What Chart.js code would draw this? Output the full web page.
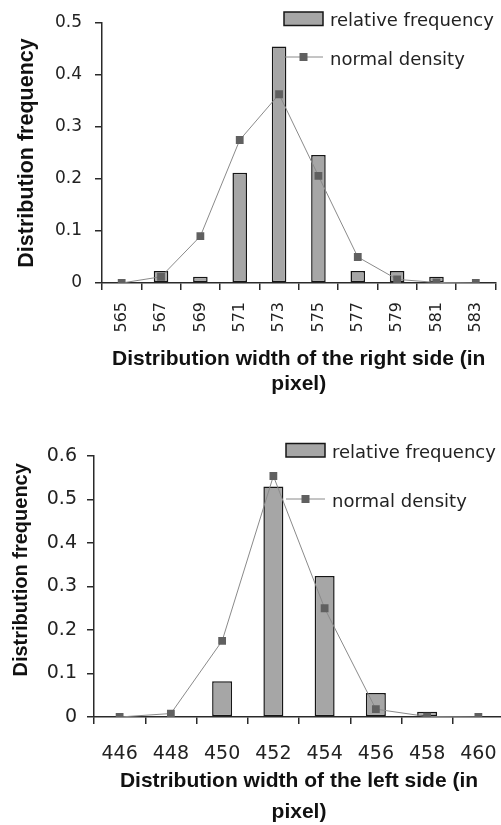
<!DOCTYPE html>
<html>
<head>
<meta charset="utf-8">
<script src="https://cdn.jsdelivr.net/npm/chart.js@4.4.1/dist/chart.umd.min.js"></script>
<style>
  html, body { margin: 0; padding: 0; background: #fff; overflow: hidden; }
  body { width: 501px; height: 825px; position: relative; }
  .wrap { position: absolute; left: 0; }
  #rightWrap { top: 0; width: 501px; height: 400px; }
  #leftWrap { top: 410px; width: 510px; height: 415px; }
</style>
</head>
<body>
<div class="wrap" id="rightWrap"><canvas id="rightChart" width="501" height="400"></canvas></div>
<div class="wrap" id="leftWrap"><canvas id="leftChart" width="510" height="415"></canvas></div>
<script>
// ── Data: right side ──
const rightWidths = ['565', '567', '569', '571', '573', '575', '577', '579', '581', '583'];
const rightFreq = [0, 0.023, 0.012, 0.212, 0.455, 0.246, 0.023, 0.023, 0.012, 0];
const rightDensity = [0, 0.012, 0.09, 0.275, 0.363, 0.206, 0.05, 0.007, 0.001, 0];

// ── Data: left side ──
const leftWidths = ['446', '448', '450', '452', '454', '456', '458', '460'];
const leftFreq = [0, 0, 0.082, 0.53, 0.324, 0.055, 0.012, 0];
const leftDensity = [0, 0.008, 0.175, 0.554, 0.25, 0.018, 0.001, 0];

const AXIS = '#2a2a2a';
const TEXT = '#222';
const BAR_FILL = '#a6a6a6';
const BAR_EDGE = '#161616';
const LINE = '#8a8a8a';
const MARKER = '#606060';

// ── Legend drawn at the top right of each chart ──
const sideLegend = {
  id: 'sideLegend',
  afterDraw(chart, args, opts) {
    const ctx = chart.ctx;
    const bar = chart.data.datasets.find(d => d.type === 'bar');
    const line = chart.data.datasets.find(d => d.type === 'line');
    ctx.save();
    ctx.fillStyle = bar.backgroundColor;
    ctx.fillRect(opts.x, opts.y, 39, 13.5);
    ctx.lineWidth = 1.5;
    ctx.strokeStyle = bar.borderColor;
    ctx.strokeRect(opts.x, opts.y, 39, 13.5);

    ctx.strokeStyle = line.borderColor;
    ctx.lineWidth = 1;
    ctx.beginPath();
    ctx.moveTo(opts.x, opts.lineY);
    ctx.lineTo(opts.x + 39, opts.lineY);
    ctx.stroke();
    ctx.fillStyle = line.pointBackgroundColor;
    ctx.fillRect(opts.x + 15.5, opts.lineY - 4, 8, 8);

    ctx.font = '18px "DejaVu Sans"';
    ctx.fillStyle = TEXT;
    ctx.textBaseline = 'alphabetic';
    ctx.fillText(bar.label, opts.x + 46, opts.y + 14);
    ctx.fillText(line.label, opts.x + 46, opts.lineY + 7.5);
    ctx.restore();
  }
};

function makeChart(id, o) {
  const tickFont = size => ({ family: 'DejaVu Sans', size });
  const titleFont = (size, lh) => ({ family: 'Liberation Sans', size, weight: 'bold', lineHeight: lh });
  return new Chart(document.getElementById(id), {
    type: 'bar',
    data: {
      labels: o.labels,
      datasets: [{
        type: 'line',
        label: 'normal density',
        data: o.density,
        borderColor: LINE,
        borderWidth: 1,
        pointStyle: 'rect',
        pointRadius: 5.5,
        pointBorderWidth: 0,
        pointBackgroundColor: MARKER,
        pointBorderColor: MARKER,
        tension: 0,
        order: 0,
      }, {
        type: 'bar',
        label: 'relative frequency',
        data: o.freq,
        backgroundColor: BAR_FILL,
        borderColor: BAR_EDGE,
        borderWidth: 1.5,
        borderSkipped: false,
        barPercentage: o.barPct,
        categoryPercentage: 1,
        order: 1,
      }]
    },
    plugins: [sideLegend],
    options: {
      responsive: false,
      animation: false,
      events: [],
      layout: { padding: o.pad },
      plugins: {
        legend: { display: false },
        tooltip: { enabled: false },
        sideLegend: o.legend,
      },
      scales: {
        x: {
          grid: { drawOnChartArea: false, tickLength: 7, color: AXIS, lineWidth: 1.5, offset: true },
          border: { color: AXIS, width: 1.5 },
          ticks: {
            font: tickFont(o.xTickSize), color: TEXT, autoSkip: false,
            minRotation: o.xRot, maxRotation: o.xRot, padding: o.xTickPad,
          },
          title: {
            display: true, text: o.xTitle, color: '#111',
            font: titleFont(21, o.xTitleLH), padding: { top: 0, bottom: o.xTitlePadB },
          },
          afterFit: s => {
            s.height = o.xHeight;
            s.paddingLeft = 0;
            s.paddingRight = 0;
          },
        },
        y: {
          min: 0,
          max: o.yMax,
          grid: { drawOnChartArea: false, tickLength: 7, color: AXIS, lineWidth: 1.5 },
          border: { color: AXIS, width: 1.5 },
          ticks: { stepSize: 0.1, font: tickFont(o.yTickSize), color: TEXT, padding: o.yTickPad },
          title: {
            display: true, text: o.yTitle, color: '#111',
            font: titleFont(o.yTitleSize, 1.2), padding: { top: o.yTitlePadT, bottom: 0 },
          },
          afterFit: s => {
            s.width = o.yWidth;
            s.paddingTop = 0;
            s.paddingBottom = 0;
          },
        }
      }
    }
  });
}

// ── Right side chart ──
makeChart('rightChart', {
  labels: rightWidths,
  freq: rightFreq,
  density: rightDensity,
  barPct: 0.37,
  pad: { top: 23, right: 4, bottom: 0, left: 0 },
  legend: { x: 284, y: 12, lineY: 57 },
  xTickSize: 16, xRot: 90, xTickPad: 12,
  xTitle: ['Distribution width of the right side (in', 'pixel)'],
  xTitleLH: 1.22, xTitlePadB: 2.5,
  xHeight: 117,
  yMax: 0.5, yTickSize: 17, yTickPad: 13,
  yTitle: 'Distribution frequency', yTitleSize: 21.5, yTitlePadT: 14.5,
  yWidth: 102,
});

// ── Left side chart ──
makeChart('leftChart', {
  labels: leftWidths,
  freq: leftFreq,
  density: leftDensity,
  barPct: 0.39,
  pad: { top: 46, right: 6, bottom: 0, left: 0 },
  legend: { x: 286, y: 33.5, lineY: 89 },
  xTickSize: 19, xRot: 0, xTickPad: 19,
  xTitle: ['Distribution width of the left side (in', 'pixel)'],
  xTitleLH: 1.45, xTitlePadB: -2,
  xHeight: 108,
  yMax: 0.6, yTickSize: 19, yTickPad: 10,
  yTitle: '      Distribution frequency', yTitleSize: 20, yTitlePadT: 9,
  yWidth: 94,
});
</script>
</body>
</html>
